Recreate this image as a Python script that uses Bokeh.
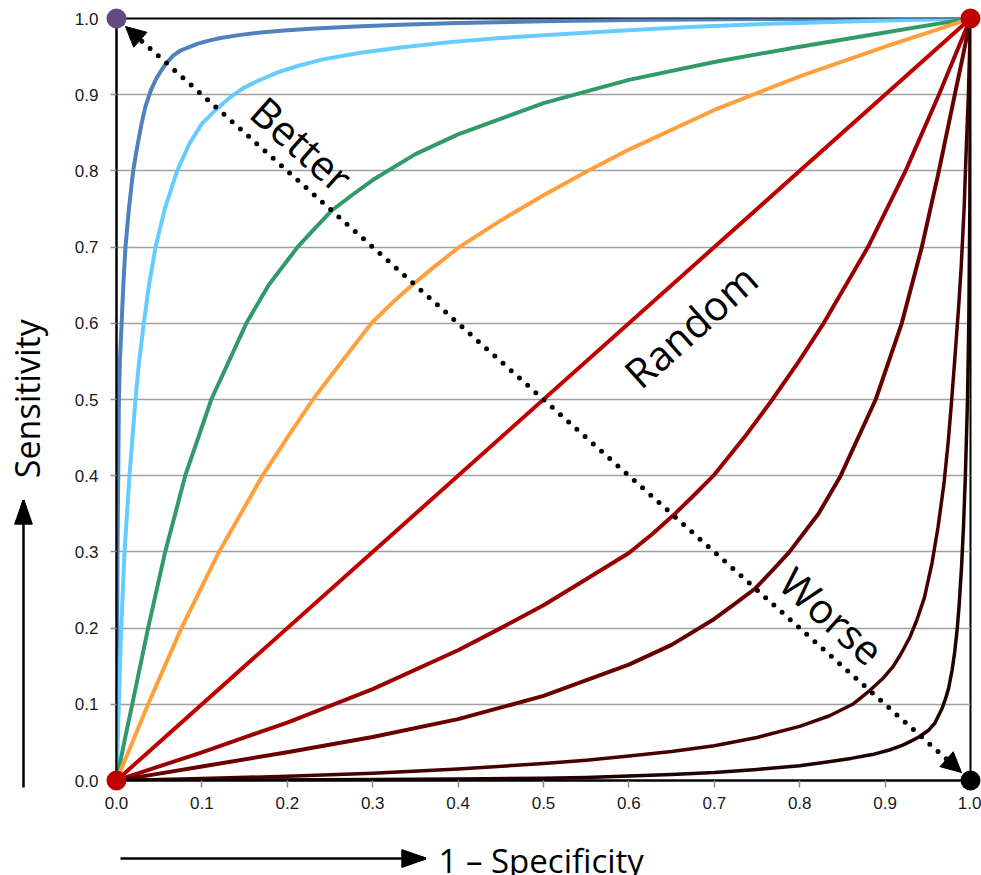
import math
from bokeh.plotting import figure
from bokeh.models import Range1d, FixedTicker, Label, Arrow, NormalHead
from bokeh.core.properties import value
from bokeh.embed import file_html
from bokeh.resources import INLINE

# ---------------- data ----------------
tick_values = [0.0, 0.1, 0.2, 0.3, 0.4, 0.5, 0.6, 0.7, 0.8, 0.9, 1.0]
tick_labels = ["0.0", "0.1", "0.2", "0.3", "0.4", "0.5", "0.6", "0.7", "0.8", "0.9", "1.0"]

# curves above the diagonal (1 - specificity, sensitivity)
blue_x = [0.0, 0.0006, 0.0012, 0.002, 0.0028, 0.004, 0.006, 0.008, 0.0105, 0.0145, 0.0195, 0.024,
          0.029, 0.034, 0.040, 0.046, 0.052, 0.0574, 0.066, 0.0749, 0.085, 0.0945, 0.108, 0.1218,
          0.145, 0.1686, 0.2, 0.227, 0.28, 0.333, 0.4, 0.5, 0.6, 0.75, 1.0]
blue_y = [0.0, 0.15, 0.3, 0.4, 0.5, 0.55, 0.6, 0.65, 0.7, 0.75, 0.8, 0.83,
          0.86, 0.885, 0.905, 0.92, 0.931, 0.940, 0.951, 0.958, 0.9625, 0.9667, 0.971, 0.9745,
          0.9785, 0.9815, 0.9845, 0.9865, 0.9895, 0.9918, 0.994, 0.9965, 0.998, 0.9992, 1.0]

lightblue_x = [0.0, 0.0014, 0.0027, 0.0055, 0.0094, 0.0152, 0.0222, 0.0265, 0.032, 0.038, 0.0457,
               0.0565, 0.071, 0.085, 0.1, 0.118, 0.1335, 0.149, 0.165, 0.188, 0.21, 0.24, 0.2857,
               0.3326, 0.39, 0.4457, 0.5, 0.559, 0.62, 0.672, 0.75, 0.828, 0.9, 1.0]
lightblue_y = [0.0, 0.05, 0.1, 0.2, 0.3, 0.4, 0.5, 0.55, 0.6, 0.65, 0.7,
               0.75, 0.8, 0.835, 0.862, 0.882, 0.897, 0.909, 0.918, 0.929, 0.937, 0.946, 0.955,
               0.962, 0.969, 0.974, 0.978, 0.982, 0.986, 0.989, 0.9925, 0.995, 0.9975, 1.0]

green_x = [0.0, 0.009, 0.0184, 0.037, 0.057, 0.0805, 0.111, 0.152, 0.178, 0.212, 0.23, 0.252,
           0.278, 0.3, 0.35, 0.4, 0.5, 0.6, 0.7, 0.8, 0.9, 0.95, 1.0]
green_y = [0.0, 0.05, 0.1, 0.2, 0.3, 0.4, 0.5, 0.6, 0.65, 0.7, 0.722, 0.748,
           0.77, 0.788, 0.822, 0.848, 0.889, 0.9195, 0.943, 0.963, 0.9816, 0.991, 1.0]

orange_x = [0.0, 0.0185, 0.037, 0.076, 0.12, 0.171, 0.2, 0.23, 0.264, 0.2985, 0.3235, 0.348,
            0.373, 0.4, 0.45, 0.5, 0.55, 0.6, 0.7, 0.8, 0.9, 0.95, 1.0]
orange_y = [0.0, 0.05, 0.1, 0.2, 0.3, 0.4, 0.45, 0.5, 0.55, 0.6, 0.6275, 0.652,
            0.675, 0.699, 0.735, 0.768, 0.799, 0.828, 0.88, 0.924, 0.963, 0.9815, 1.0]

random_x = [0.0, 1.0]
random_y = [0.0, 1.0]

# curves below the diagonal (they read as mirror images of the ones above)
worse1_x = [0.0, 0.05, 0.1, 0.2, 0.3, 0.4, 0.45, 0.5, 0.55, 0.6, 0.6275, 0.652,
            0.675, 0.699, 0.735, 0.768, 0.799, 0.828, 0.88, 0.924, 0.963, 0.9815, 1.0]
worse1_y = [0.0, 0.0185, 0.037, 0.076, 0.12, 0.171, 0.2, 0.23, 0.264, 0.2985, 0.3235, 0.348,
            0.373, 0.4, 0.45, 0.5, 0.55, 0.6, 0.7, 0.8, 0.9, 0.95, 1.0]

worse2_x = [0.0, 0.05, 0.1, 0.2, 0.3, 0.4, 0.5, 0.6, 0.65, 0.7, 0.722, 0.748,
            0.77, 0.788, 0.822, 0.848, 0.889, 0.9195, 0.943, 0.963, 0.9816, 0.991, 1.0]
worse2_y = [0.0, 0.009, 0.0184, 0.037, 0.057, 0.0805, 0.111, 0.152, 0.178, 0.212, 0.23, 0.252,
            0.278, 0.3, 0.35, 0.4, 0.5, 0.6, 0.7, 0.8, 0.9, 0.95, 1.0]

worse3_x = [0.0, 0.05, 0.1, 0.2, 0.3, 0.4, 0.5, 0.55, 0.6, 0.65, 0.7,
            0.75, 0.8, 0.835, 0.862, 0.882, 0.897, 0.909, 0.918, 0.929, 0.937, 0.946, 0.955,
            0.962, 0.969, 0.974, 0.978, 0.982, 0.986, 0.989, 0.9925, 0.995, 0.9975, 1.0]
worse3_y = [0.0, 0.0014, 0.0027, 0.0055, 0.0094, 0.0152, 0.0222, 0.0265, 0.032, 0.038, 0.0457,
            0.0565, 0.071, 0.085, 0.1, 0.118, 0.1335, 0.149, 0.165, 0.188, 0.21, 0.24, 0.2857,
            0.3326, 0.39, 0.4457, 0.5, 0.559, 0.62, 0.672, 0.75, 0.828, 0.9, 1.0]

worse4_x = [0.0, 0.15, 0.3, 0.4, 0.5, 0.55, 0.6, 0.65, 0.7, 0.75, 0.8, 0.83,
            0.86, 0.885, 0.905, 0.92, 0.931, 0.940, 0.951, 0.958, 0.9625, 0.9667, 0.971, 0.9745,
            0.9785, 0.9815, 0.9845, 0.9865, 0.9895, 0.9918, 0.994, 0.9965, 0.998, 0.9992, 1.0]
worse4_y = [0.0, 0.0006, 0.0012, 0.002, 0.0028, 0.004, 0.006, 0.008, 0.0105, 0.0145, 0.0195, 0.024,
            0.029, 0.034, 0.040, 0.046, 0.052, 0.0574, 0.066, 0.0749, 0.085, 0.0945, 0.108, 0.1218,
            0.145, 0.1686, 0.2, 0.227, 0.28, 0.333, 0.4, 0.5, 0.6, 0.75, 1.0]

corner_x = [0.0, 1.0, 0.0, 1.0]
corner_y = [1.0, 1.0, 0.0, 0.0]
corner_colors = ["#614B80", "#C00000", "#C00000", "#000000"]

x_title = "1 \u2013 Specificity"
y_title = "Sensitivity"

# ---------------- figure ----------------
W, H = 981, 875
ML, MR, MT, MB = 116, 11, 18, 95
FW, FH = W - ML - MR, H - MT - MB

p = figure(width=W, height=H, output_backend="svg", toolbar_location=None,
           x_range=Range1d(0, 1), y_range=Range1d(0, 1),
           min_border_left=ML, min_border_right=MR, min_border_top=MT, min_border_bottom=MB,
           background_fill_color="white", border_fill_color="white")
p.outline_line_color = "black"
p.outline_line_width = 2
p.outline_line_alpha = 1.0

p.xgrid.visible = False
p.ygrid.ticker = FixedTicker(ticks=tick_values)
p.ygrid.grid_line_color = "#a0a0a0"
p.ygrid.grid_line_width = 1.5

overrides = {v: s for v, s in zip(tick_values, tick_labels)}
for ax, tick_out, standoff in ((p.xaxis[0], 7, 9), (p.yaxis[0], 6, 12)):
    ax.ticker = FixedTicker(ticks=tick_values)
    ax.major_label_overrides = overrides
    ax.axis_line_color = "black"
    ax.axis_line_width = 2
    ax.major_tick_line_color = "#8c8c8c"
    ax.major_tick_line_width = 1.5
    ax.major_tick_in = 0
    ax.major_tick_out = tick_out
    ax.minor_tick_line_color = None
    ax.major_label_standoff = standoff
    ax.major_label_text_font = "Liberation Sans"
    ax.major_label_text_font_size = "17px"
    ax.major_label_text_color = "#1a1a1a"

LW = 4
common = dict(line_width=LW, line_join="round", line_cap="round")
p.line(blue_x, blue_y, line_color="#4F81BD", **common)
p.line(lightblue_x, lightblue_y, line_color="#66CCFF", **common)
p.line(green_x, green_y, line_color="#319A68", **common)
p.line(orange_x, orange_y, line_color="#FFA03C", **common)
p.line(random_x, random_y, line_color="#C00000", **common)
p.line(worse1_x, worse1_y, line_color="#9A0000", **common)
p.line(worse2_x, worse2_y, line_color="#690000", **common)
p.line(worse3_x, worse3_y, line_color="#450000", line_width=3.5, line_join="round")
p.line(worse4_x, worse4_y, line_color="#200000", line_width=3.5, line_join="round")

# dotted "better / worse" arrow between the corners
inset = 12.0 / math.hypot(FW, FH)
p.add_layout(Arrow(x_start=inset, y_start=1 - inset, x_end=1 - inset, y_end=inset,
                   line_color="black", line_width=5, line_dash="0 11", line_cap="round",
                   start=NormalHead(size=20, fill_color="black", line_color="black", line_width=1),
                   end=NormalHead(size=20, fill_color="black", line_color="black", line_width=1)))

ang = math.atan2(FH, FW)
big = "41px"
p.add_layout(Label(x=0.2174, y=0.8355, text="Better", angle=-ang, text_align="center",
                   text_baseline="middle", text_font="Open Sans", text_font_size=big, text_color="black"))
p.add_layout(Label(x=0.672, y=0.597, text="Random", angle=ang, text_align="center",
                   text_baseline="middle", text_font="Open Sans", text_font_size=big, text_color="black"))
p.add_layout(Label(x=0.838, y=0.2165, text="Worse", angle=-ang, text_align="center",
                   text_baseline="middle", text_font="Open Sans", text_font_size=big, text_color="black"))

# axis titles with arrows, drawn as overlay glyphs outside the frame
ov = dict(level="overlay")
HEAD_L, HEAD_W = 24, 8.5          # arrow head length / half width in pixels
fan = [k / 8.0 for k in range(-8, 9)]  # spread of the strokes that fill a head

# vertical arrow (Sensitivity), tip 280 px above the frame bottom
vx, vtip = -93 / FW, 280 / FH
p.segment(x0=[vx], y0=[-7 / FH], x1=[vx], y1=[vtip - 12 / FH], line_color="black", line_width=2.5, **ov)
p.segment(x0=[vx] * len(fan), y0=[vtip] * len(fan),
          x1=[vx + f * HEAD_W / FW for f in fan], y1=[vtip - HEAD_L / FH] * len(fan),
          line_color="black", line_width=2, **ov)
p.text(x=[-90 / FW], y=[0.501], text=[y_title], angle=math.pi / 2, text_align="center",
       text_baseline="alphabetic", text_font=value("Open Sans"), text_font_size=value("34px"),
       text_color="black", **ov)

# horizontal arrow (1 - Specificity), tip 309 px right of the frame left
hy, htip = -78 / FH, 309 / FW
p.segment(x0=[4 / FW], y0=[hy], x1=[htip - 12 / FW], y1=[hy], line_color="black", line_width=2.5, **ov)
p.segment(x0=[htip] * len(fan), y0=[hy] * len(fan),
          x1=[htip - HEAD_L / FW] * len(fan), y1=[hy + f * HEAD_W / FH for f in fan],
          line_color="black", line_width=2, **ov)
p.text(x=[322 / FW], y=[-80 / FH], text=[x_title], text_align="left",
       text_baseline="alphabetic", text_font=value("Open Sans"), text_font_size=value("33px"),
       text_color="black", **ov)

p.scatter(corner_x, corner_y, size=20, fill_color=corner_colors, line_color=None, level="overlay")

open("out.html", "w").write(file_html(p, INLINE))
